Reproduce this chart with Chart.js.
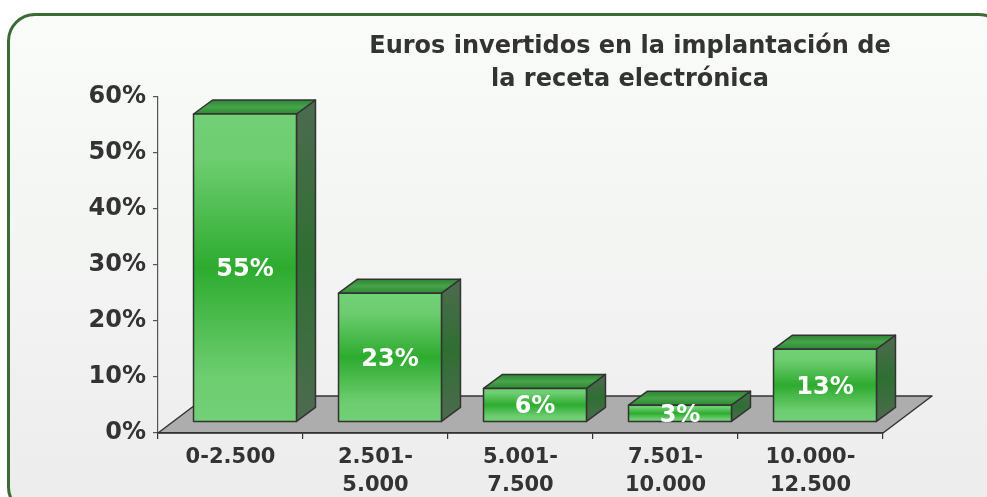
<!DOCTYPE html>
<html><head><meta charset="utf-8">
<script src="https://cdn.jsdelivr.net/npm/chart.js@4"></script>
<style>
html,body{margin:0;padding:0;width:987px;height:497px;overflow:hidden;background:#ffffff;}
#frame{position:absolute;left:7px;top:13px;width:1000px;height:502px;border:3px solid #3a6b35;border-radius:28px;background:linear-gradient(#f9fcf9,#ececec);box-sizing:border-box;}
#wrap{position:absolute;left:0;top:0;width:987px;height:497px;}
</style></head><body>
<div id="frame"></div>
<div id="wrap"><canvas id="c" width="987" height="497"></canvas></div>
<script>
const categories = [['0-2.500'], ['2.501-', '5.000'], ['5.001-', '7.500'], ['7.501-', '10.000'], ['10.000-', '12.500']];
const values = [55, 23, 6, 3, 13];
const yTickValues = [0, 10, 20, 30, 40, 50, 60];
const titleLines = ['Euros invertidos en la implantación de', 'la receta electrónica'];

const FONT = '"DejaVu Sans", Verdana, sans-serif';
const FRONT = {dx: 14.5, dy: -11};
const DEPTH = {dx: 19, dy: -14};
const FLOOR = {dx: 49, dy: -37};

const bars3d = {
  id: 'bars3d',
  beforeDraw(chart) {
    const ctx = chart.ctx, xs = chart.scales.x, ys = chart.scales.y;
    const yb = ys.getPixelForValue(0), x0 = xs.left, x1 = xs.right;
    ctx.save();
    ctx.beginPath();
    ctx.moveTo(x0, yb); ctx.lineTo(x1, yb);
    ctx.lineTo(x1 + FLOOR.dx, yb + FLOOR.dy); ctx.lineTo(x0 + FLOOR.dx, yb + FLOOR.dy);
    ctx.closePath();
    ctx.fillStyle = '#adadad'; ctx.fill();
    ctx.lineWidth = 1.5; ctx.strokeStyle = '#333'; ctx.lineJoin = 'round'; ctx.stroke();
    ctx.restore();
  },
  afterDatasetsDraw(chart) {
    const ctx = chart.ctx;
    const meta = chart.getDatasetMeta(0);
    ctx.save();
    ctx.lineWidth = 1.5; ctx.strokeStyle = '#333'; ctx.lineJoin = 'round';
    meta.data.forEach((el, i) => {
      const L = el.x - el.width / 2 + FRONT.dx, R = el.x + el.width / 2 + FRONT.dx;
      const T = el.y + FRONT.dy, B = el.base + FRONT.dy;
      // side
      let g = ctx.createLinearGradient(0, T + DEPTH.dy, 0, B);
      g.addColorStop(0, '#4e6a50'); g.addColorStop(0.5, '#2f6f32'); g.addColorStop(1, '#4e6a50');
      ctx.beginPath();
      ctx.moveTo(R, T); ctx.lineTo(R + DEPTH.dx, T + DEPTH.dy); ctx.lineTo(R + DEPTH.dx, B + DEPTH.dy); ctx.lineTo(R, B); ctx.closePath();
      ctx.fillStyle = g; ctx.fill(); ctx.stroke();
      // top
      g = ctx.createLinearGradient(0, T + DEPTH.dy, 0, T);
      g.addColorStop(0, '#2e8533'); g.addColorStop(0.5, '#47a44a'); g.addColorStop(1, '#2d8832');
      ctx.beginPath();
      ctx.moveTo(L, T); ctx.lineTo(L + DEPTH.dx, T + DEPTH.dy); ctx.lineTo(R + DEPTH.dx, T + DEPTH.dy); ctx.lineTo(R, T); ctx.closePath();
      ctx.fillStyle = g; ctx.fill(); ctx.stroke();
      // front
      g = ctx.createLinearGradient(0, T, 0, B);
      g.addColorStop(0, '#72d076'); g.addColorStop(0.15, '#6dcd70'); g.addColorStop(0.5, '#2eab2f'); g.addColorStop(0.85, '#6dcd70'); g.addColorStop(1, '#72d076');
      ctx.beginPath(); ctx.rect(L, T, R - L, B - T);
      ctx.fillStyle = g; ctx.fill(); ctx.stroke();
      // label
      ctx.fillStyle = '#ffffff';
      ctx.font = 'bold 24px ' + FONT;
      ctx.textAlign = 'center'; ctx.textBaseline = 'middle';
      ctx.fillText(values[i] + '%', (L + R) / 2, (T + B) / 2 + 2);
    });
    ctx.restore();
  },
  afterDraw(chart) {
    const ctx = chart.ctx;
    ctx.save();
    ctx.fillStyle = '#333333';
    ctx.font = 'bold 24px ' + FONT;
    ctx.textAlign = 'center'; ctx.textBaseline = 'middle';
    ctx.fillText(titleLines[0], 630, 47);
    ctx.fillText(titleLines[1], 630, 80);
    ctx.restore();
  }
};

new Chart(document.getElementById('c'), {
  type: 'bar',
  data: {
    labels: categories,
    datasets: [{
      data: values,
      backgroundColor: 'rgba(0,0,0,0)',
      borderWidth: 0,
      barPercentage: 0.71,
      categoryPercentage: 1
    }]
  },
  plugins: [bars3d],
  options: {
    responsive: false,
    animation: false,
    devicePixelRatio: 1,
    layout: {padding: {left: 0, right: 104, top: 97, bottom: 0}},
    plugins: {legend: {display: false}, title: {display: false}, tooltip: {enabled: false}},
    scales: {
      y: {
        min: 0, max: 60,
        afterBuildTicks: (s) => { s.ticks = yTickValues.map(v => ({value: v})); },
        afterFit: (s) => { s.width = 158; },
        ticks: {
          callback: (v) => v + '%',
          color: '#333333', padding: 7,
          font: {family: FONT, weight: 'bold', size: 24}
        },
        grid: {drawOnChartArea: false, tickLength: 5, color: '#555555', lineWidth: 1.2},
        border: {display: true, color: '#555555', width: 1.2}
      },
      x: {
        afterFit: (s) => { s.height = 497 - 433; },
        ticks: {
          color: '#333333', padding: 5,
          font: {family: FONT, weight: 'bold', size: 21, lineHeight: 1.33}
        },
        grid: {drawOnChartArea: false, offset: true, tickLength: 6, color: '#333333', lineWidth: 1.2},
        border: {display: true, color: '#333333', width: 1.2}
      }
    }
  }
});
</script>
</body></html>
